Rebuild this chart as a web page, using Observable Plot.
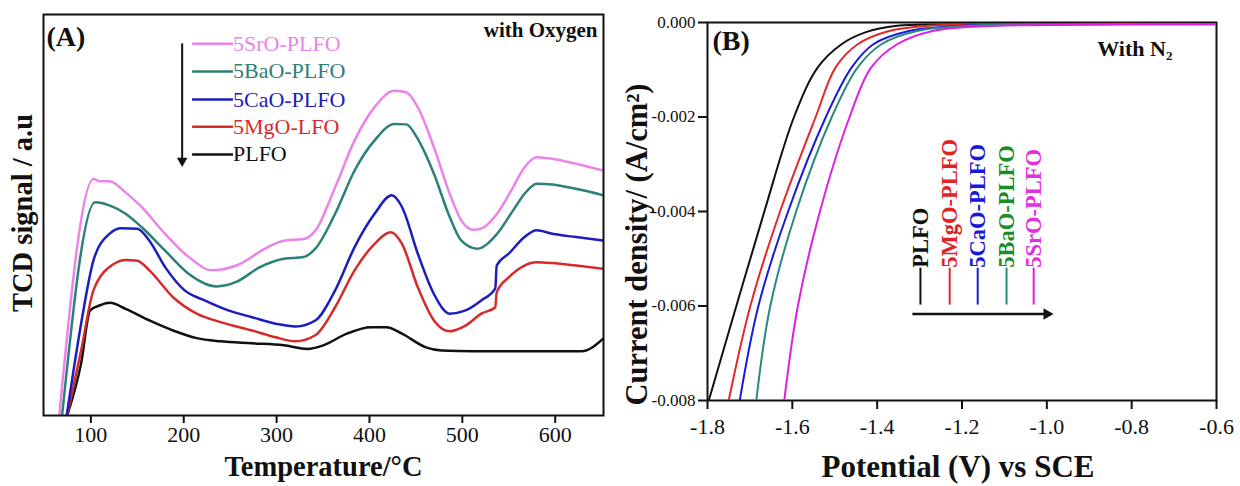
<!DOCTYPE html>
<html><head><meta charset="utf-8">
<script src="https://cdn.jsdelivr.net/npm/d3@7"></script>
<script src="https://cdn.jsdelivr.net/npm/@observablehq/plot@0.6"></script>
<style>
html,body{margin:0;padding:0;background:#fff;}
#wrap{position:relative;width:1240px;height:486px;overflow:hidden;}
#wrap svg{position:absolute;top:0;}
</style></head><body><div id="wrap"></div>
<script>
// ---------- Panel A data (TCD signal, arbitrary units 0..100 of frame) ----------
const tickA = [100, 200, 300, 400, 500, 600];
const seriesA = ["PLFO", "5MgO-LFO", "5CaO-PLFO", "5BaO-PLFO", "5SrO-PLFO"];
const colorsA = ["#111111", "#d42b2b", "#1c1cbf", "#2b8077", "#ea84ea"];

const plfoT = [74.5, 89.5, 99.2, 110, 120.8, 137.4, 163, 188.5, 214, 239.6, 273.6, 307.7, 333.2, 350.2, 375.7, 401.3, 418.3, 435, 460.8, 477.8, 512, 554.5, 600, 628.4, 652];
const plfoS = [0, 13, 26.2, 27.5, 28.1, 26.6, 23.7, 21.2, 19.3, 18.5, 18.0, 17.5, 16.6, 17.5, 20.4, 22.0, 22.0, 20.4, 17.0, 16.2, 16.0, 16.0, 16.0, 16.0, 19.2];

const mgoT = [74.5, 89.5, 102.8, 124.7, 137.4, 150, 163, 188.5, 214, 239.6, 273.6, 299, 320.4, 341.7, 363, 384, 405.5, 423, 435, 452, 469.4, 486.4, 503.4, 520.4, 535.5, 537, 550.2, 567, 580, 597, 622.5, 652];
const mgoS = [0, 16.2, 31.2, 37.8, 38.8, 38.6, 36.2, 29.5, 25.4, 23.3, 21.2, 19.5, 18.5, 20.0, 27.0, 36.2, 42.8, 45.7, 42.8, 32.0, 23.7, 21.0, 22.4, 25.4, 27.0, 30.7, 34.5, 37.4, 38.2, 38.0, 37.4, 36.6];

const caoT = [74, 89.5, 102.8, 120, 133, 150, 163, 180, 201, 222.5, 248, 273.6, 299, 320.4, 341.7, 363, 384, 405.5, 424, 435, 452, 469.4, 486.4, 503.4, 520.4, 535.5, 537, 550.2, 567, 580, 597, 622.5, 652];
const caoS = [0, 22.9, 38.7, 45.3, 46.7, 46.6, 43.6, 37.0, 31.2, 28.7, 26.2, 24.5, 22.9, 22.2, 23.7, 31.2, 42.0, 50.3, 54.9, 52.0, 40.4, 30.3, 25.4, 26.2, 28.7, 31.7, 37.4, 40.4, 44.5, 46.2, 45.3, 44.5, 43.6];

const baoT = [69, 104.6, 120, 137.4, 154.5, 180, 205.5, 235, 256.6, 282, 307.7, 329, 341.7, 363, 384, 405.5, 426.8, 439.6, 452, 469.4, 486.4, 499, 516, 537.4, 554.5, 567, 580, 597, 614, 631, 652];
const baoS = [0, 53.2, 52.4, 50.3, 47.0, 41.1, 35.3, 32.2, 33.3, 37.0, 39.1, 39.5, 41.6, 50.3, 61.1, 68.6, 72.7, 72.6, 69.0, 60.3, 49.5, 43.6, 41.6, 45.3, 51.1, 55.3, 57.8, 57.6, 56.9, 56.1, 54.9];

const sroT = [66, 102.8, 110, 120, 137, 154.5, 180, 205.5, 231, 256.6, 290.6, 307.7, 329, 341.7, 363, 384, 405.5, 426.8, 439.6, 452, 469.4, 486.4, 499, 512, 520.4, 537.4, 554.5, 567, 580, 597, 614, 631, 652];
const sroS = [0, 59.0, 58.4, 58.4, 55.7, 52.0, 45.3, 39.5, 36.2, 37.4, 42.0, 43.6, 44.0, 46.1, 56.9, 68.6, 76.9, 81.0, 80.6, 76.9, 66.9, 55.3, 48.6, 46.3, 46.6, 50.3, 56.9, 61.9, 64.4, 64.0, 63.2, 62.3, 61.1];

// ---------- Panel B data (current density vs potential) ----------
const tickBx = [-1.8, -1.6, -1.4, -1.2, -1.0, -0.8, -0.6];
const tickBy = [0, -0.002, -0.004, -0.006, -0.008];
const seriesB = ["PLFO", "5MgO-PLFO", "5CaO-PLFO", "5BaO-PLFO", "5SrO-PLFO"];
const lineColorsB = ["#111111", "#e02a2a", "#1a1ad8", "#2a8a80", "#e020e0"];
const textColorsB = ["#111111", "#e02424", "#1818d8", "#1c8c28", "#e030e0"];

const plfoV = [-1.797, -1.732, -1.666, -1.596, -1.540, -1.484, -1.428, -1.353, -1.25, -1.0, -0.6];
const plfoI = [-0.008, -0.006, -0.004, -0.002, -0.00095, -0.00046, -0.00021, -0.00007, -0.00004, -0.00003, -0.00003];
const mgoV = [-1.750, -1.699, -1.629, -1.545, -1.498, -1.446, -1.372, -1.28, -1.0, -0.6];
const mgoI = [-0.008, -0.006, -0.004, -0.002, -0.00095, -0.00046, -0.00018, -0.00007, -0.00003, -0.00003];
const caoV = [-1.724, -1.680, -1.610, -1.521, -1.460, -1.409, -1.325, -1.2, -1.0, -0.6];
const caoI = [-0.008, -0.006, -0.004, -0.002, -0.00095, -0.00046, -0.00018, -0.00007, -0.00004, -0.00003];
const baoV = [-1.685, -1.652, -1.591, -1.507, -1.446, -1.390, -1.306, -1.18, -1.0, -0.6];
const baoI = [-0.008, -0.006, -0.004, -0.002, -0.00095, -0.00046, -0.00018, -0.00007, -0.00004, -0.00003];
const sroV = [-1.619, -1.587, -1.535, -1.465, -1.414, -1.353, -1.269, -1.15, -0.95, -0.6];
const sroI = [-0.008, -0.006, -0.004, -0.002, -0.00095, -0.00046, -0.00018, -0.00008, -0.00005, -0.00004];

// ---------- layout constants (annotation placement) ----------
const legendAY = [92.7, 85.8, 78.8, 72.0, 65.1]; // SrO..PLFO top to bottom
const legendAX = [209, 253];
const arrowA = {x: 198.3, y1: 92.8, y2: 63.5};
const legendBX = [-1.298, -1.229, -1.163, -1.095, -1.031];
const legendBY = [-0.00519, -0.00597];
const arrowB = {y: -0.00617, x1: -1.317, x2: -1.0};

const FONT = "Liberation Serif, Times New Roman, serif";
const wrap = document.getElementById("wrap");

// ---------- Panel A ----------
const dataA = [[plfoT, plfoS], [mgoT, mgoS], [caoT, caoS], [baoT, baoS], [sroT, sroS]];
const linesA = dataA.map(([t, s], i) => Plot.line(t.map((v, j) => ({T: v, S: s[j]})), {
  x: "T", y: "S", stroke: colorsA[i], strokeWidth: 2.5, curve: "monotone-x", clip: true
}));
const legOrderA = [4, 3, 2, 1, 0];
const legendMarksA = legOrderA.flatMap((si, k) => [
  Plot.link([{y: legendAY[k]}], {x1: () => legendAX[0], x2: () => legendAX[1], y1: "y", y2: "y", stroke: colorsA[si], strokeWidth: 2.5}),
  Plot.text([{y: legendAY[k], t: seriesA[si]}], {x: () => legendAX[1], y: "y", text: "t", fill: colorsA[si], textAnchor: "start", lineAnchor: "middle", fontSize: 22, fontFamily: FONT})
]);

const plotA = Plot.plot({
  width: 620, height: 486,
  marginLeft: 43, marginRight: 17, marginTop: 14, marginBottom: 71,
  style: {fontFamily: FONT, background: "transparent", color: "#111"},
  x: {domain: [49, 652]},
  y: {domain: [0, 100], axis: null},
  marks: [
    ...linesA,
    Plot.frame({stroke: "#111", strokeWidth: 2}),
    Plot.axisX({ticks: tickA, tickSize: 8, tickPadding: 3, strokeWidth: 2, fontSize: 22, label: null, tickFormat: d => String(d)}),
    ...legendMarksA,
    Plot.link([arrowA], {x1: "x", x2: "x", y1: "y1", y2: "y2", stroke: "#111", strokeWidth: 2}),
    Plot.dot([arrowA], {x: "x", y: "y2", symbol: "triangle2", rotate: 180, r: 5, fill: "#111", stroke: "none"}),
    Plot.text(["(A)"], {text: d => d, frameAnchor: "top-left", textAnchor: "start", lineAnchor: "middle", dx: 3, dy: 23, fontSize: 28, fontWeight: "bold", fontFamily: FONT, fill: "#111"}),
    Plot.text(["with Oxygen"], {text: d => d, frameAnchor: "top-right", textAnchor: "end", lineAnchor: "middle", dx: -6, dy: 16, fontSize: 21, fontWeight: "bold", fontFamily: FONT, fill: "#111"}),
    Plot.text(["TCD signal / a.u"], {text: d => d, frameAnchor: "left", rotate: -90, textAnchor: "middle", lineAnchor: "middle", dx: -21, dy: -2, fontSize: 28.5, fontWeight: "bold", fontFamily: FONT, fill: "#111"}),
    Plot.text(["Temperature/°C"], {text: d => d, frameAnchor: "bottom", textAnchor: "middle", lineAnchor: "middle", dy: 51, fontSize: 28.5, fontWeight: "bold", fontFamily: FONT, fill: "#111"})
  ]
});
plotA.style.left = "0px";
wrap.appendChild(plotA);

// ---------- Panel B ----------
const dataB = [[plfoV, plfoI], [mgoV, mgoI], [caoV, caoI], [baoV, baoI], [sroV, sroI]];
const linesB = dataB.map(([v, c], i) => Plot.line(v.map((x, j) => ({V: x, I: c[j]})), {
  x: "V", y: "I", stroke: lineColorsB[i], strokeWidth: 2, curve: "catmull-rom", clip: true
}));
const legendMarksB = seriesB.flatMap((name, i) => [
  Plot.link([{x: legendBX[i]}], {x1: "x", x2: "x", y1: () => legendBY[0], y2: () => legendBY[1], stroke: lineColorsB[i], strokeWidth: 2}),
  Plot.text([{x: legendBX[i], t: name}], {x: "x", y: () => legendBY[0], text: "t", rotate: -90, textAnchor: "start", lineAnchor: "middle", fill: textColorsB[i], fontSize: 22.5, fontWeight: "bold", fontFamily: FONT})
]);

const plotB = Plot.plot({
  width: 620, height: 486,
  marginLeft: 87, marginRight: 24, marginTop: 22, marginBottom: 86,
  style: {fontFamily: FONT, background: "transparent", color: "#111"},
  x: {domain: [-1.8, -0.6]},
  y: {domain: [-0.008, 0]},
  marks: [
    Plot.frame({stroke: "#111", strokeWidth: 2}),
    ...linesB,
    Plot.axisX({ticks: tickBx, tickSize: 9, tickPadding: 9, strokeWidth: 2, fontSize: 22, label: null, tickFormat: d => d.toFixed(1)}),
    Plot.axisY({ticks: tickBy, tickSize: 9, tickPadding: 3, strokeWidth: 2, fontSize: 17, label: null, tickFormat: d => (d === 0 ? "0.000" : d.toFixed(3))}),
    ...legendMarksB,
    Plot.link([arrowB], {x1: "x1", x2: "x2", y1: "y", y2: "y", stroke: "#111", strokeWidth: 2.5}),
    Plot.dot([arrowB], {x: "x2", y: "y", symbol: "triangle2", rotate: 90, r: 5.5, fill: "#111", stroke: "none"}),
    Plot.text(["(B)"], {text: d => d, frameAnchor: "top-left", textAnchor: "start", lineAnchor: "middle", dx: 5, dy: 19, fontSize: 28, fontWeight: "bold", fontFamily: FONT, fill: "#111"}),
    Plot.text(["With N₂"], {text: d => d, frameAnchor: "top-right", textAnchor: "end", lineAnchor: "middle", dx: -44, dy: 26, fontSize: 22, fontWeight: "bold", fontFamily: FONT, fill: "#111"}),
    Plot.text(["Current density/ (A/cm²)"], {text: d => d, frameAnchor: "left", rotate: -90, textAnchor: "middle", lineAnchor: "middle", dx: -70, dy: 33, fontSize: 30.5, fontWeight: "bold", fontFamily: FONT, fill: "#111"}),
    Plot.text(["Potential (V) vs SCE"], {text: d => d, frameAnchor: "bottom", textAnchor: "middle", lineAnchor: "middle", dx: -4, dy: 67, fontSize: 31, fontWeight: "bold", fontFamily: FONT, fill: "#111"})
  ]
});
plotB.style.left = "620px";
wrap.appendChild(plotB);
</script></body></html>
